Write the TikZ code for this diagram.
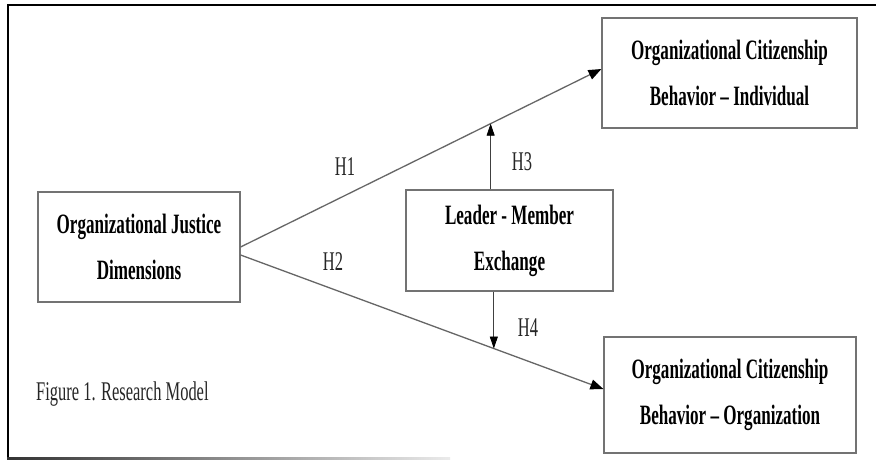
\documentclass[tikz,border=0pt]{standalone}
\usepackage{fontspec}
\setmainfont{Liberation Serif}[FakeStretch=0.61]
\usetikzlibrary{arrows.meta,calc}
\begin{document}
\begin{tikzpicture}[x=1pt,y=-1pt,
  boxnode/.style={draw=black!55, line width=1.2pt, rectangle, align=center,
    inner sep=0pt, font=\fontsize{28}{46}\selectfont\bfseries},
  mainarrow/.style={draw=black!60, line width=1.3pt,
    -{Triangle[length=13pt,width=10pt,color=black,fill=black]}},
  modarrow/.style={draw=black!75, line width=0.8pt,
    -{Triangle[length=12pt,width=8pt,color=black,fill=black]}},
  hlabel/.style={font=\fontsize{27}{27}\selectfont, text=black!85, inner sep=0pt}]
\useasboundingbox (0,0) rectangle (876,461);
\fill[white] (0,0) rectangle (876,461);
% outer frame
\draw[line width=2pt] (876,5) -- (8,5) -- (8,458);
\shade[left color=black!80, right color=black!8] (7,457.5) rectangle (450,459.5);
% boxes
\node[boxnode, minimum width=202pt, minimum height=110pt] (oj) at (139,247)
  {Organizational Justice\\Dimensions};
\node[boxnode, minimum width=207pt, minimum height=101pt] (lmx) at (509.5,240.5)
  {Leader - Member\\Exchange};
\node[boxnode, minimum width=255pt, minimum height=110pt] (ocbi) at (729.5,73)
  {Organizational Citizenship\\Behavior -- Individual};
\node[boxnode, minimum width=252pt, minimum height=116pt] (ocbo) at (730,395)
  {Organizational Citizenship\\Behavior -- Organization};
% main arrows
\coordinate (h1s) at (oj.east);
\coordinate (h1e) at ([yshift=4pt]ocbi.west);
\coordinate (h2s) at ([yshift=-8pt]oj.east);
\coordinate (h2e) at ([yshift=6pt]ocbo.west);
\draw[mainarrow] (h1s) -- (h1e);
\draw[mainarrow] (h2s) -- (h2e);
\coordinate (h1m) at ($(h1s)!0.693!(h1e)$);
\coordinate (h2m) at ($(h2s)!0.698!(h2e)$);
\draw[modarrow] (lmx.north -| h1m) -- (h1m);
\draw[modarrow] (lmx.south -| h2m) -- (h2m);
% labels
\node[hlabel] (l1) at (345,167) {H1};
\node[hlabel] (l2) at (333,262) {H2};
\node[hlabel] (l3) at (522,162) {H3};
\node[hlabel] (l4) at (528,328) {H4};
\node[hlabel, anchor=base west] (cap) at (36,400) {Figure 1. Research Model};
\end{tikzpicture}
\end{document}
